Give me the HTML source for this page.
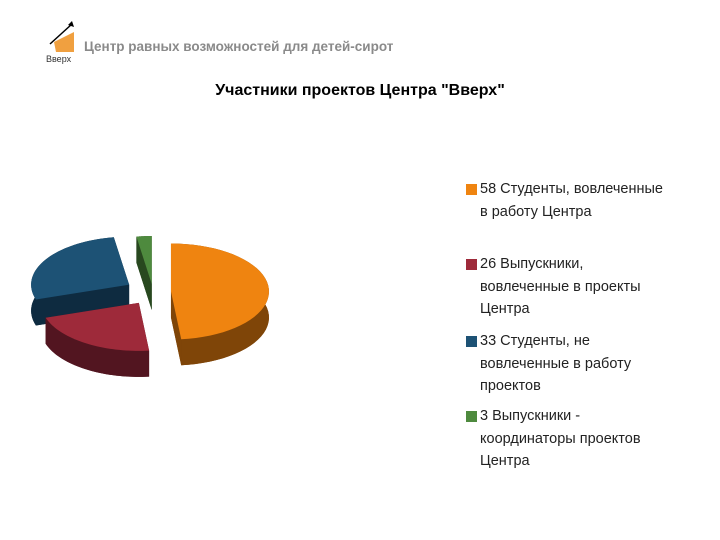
<!DOCTYPE html>
<html><head><meta charset="utf-8"><style>
body{margin:0;background:#fff;width:720px;height:540px;overflow:hidden;position:relative;font-family:"Liberation Sans","DejaVu Sans",sans-serif}
.hdr{position:absolute;left:84px;top:39px;font-size:13.5px;font-weight:bold;color:#8a8a8a}
.title{position:absolute;left:0;width:720px;top:82px;text-align:center;font-size:16px;font-weight:bold;color:#000}
.leg{position:absolute;left:466px;font-size:14.5px;line-height:22.5px;color:#222;width:240px}
.leg span.sw{position:absolute;left:0;top:6px;width:11px;height:11px}
.leg div{padding-left:14px;text-indent:0}
</style></head><body>
<svg style="position:absolute;left:44px;top:18px" width="40" height="46">
<polygon points="10,24 30,14 30,34 12,34" fill="#f0a040"/>
<line x1="6" y1="26" x2="28" y2="6" stroke="#000" stroke-width="1.5"/>
<polygon points="28,3 30,9 24,7" fill="#000"/>
<text x="2" y="44" font-size="9" fill="#333">Вверх</text>
</svg>
<div class="hdr">Центр равных возможностей для детей-сирот</div>
<div class="title">Участники проектов Центра "Вверх"</div>
<svg id="pie" width="720" height="540" style="position:absolute;left:0;top:0"></svg>
<div id="legend"></div>
<script>
const labels=["Студенты, вовлеченные в работу Центра","Выпускники, вовлеченные в проекты Центра","Студенты, не вовлеченные в работу проектов","Выпускники - координаторы проектов Центра"];
const values=[58,26,33,3];
const topColors=["#ef8410","#9e2a3a","#1d5275","#4e8a3e"];
const sideColors=["#7f4508","#521520","#0e2b40","#28481f"];
const legendLines=[["58 Студенты, вовлеченные","в работу Центра"],["26 Выпускники,","вовлеченные в проекты","Центра"],["33 Студенты, не","вовлеченные в работу","проектов"],["3 Выпускники -","координаторы проектов","Центра"]];
const legendTops=[178,253,330,405];
const explode=[18,26,28,16];
const svg=document.getElementById('pie');
const NS="http://www.w3.org/2000/svg";
const cx=153,cy=292,rx=98,ry=48,depth=26,yf=0.5;
const total=values.reduce((a,b)=>a+b,0);
function pt(c,t,dy){return [c[0]+rx*Math.sin(t),c[1]-ry*Math.cos(t)+(dy||0)];}
let a=0;const slices=[];
values.forEach((v,i)=>{const s=a,e=a+v/total*2*Math.PI;a=e;const m=(s+e)/2;
slices.push({i,s,e,c:[cx+explode[i]*Math.sin(m),cy-explode[i]*yf*Math.cos(m)]});});
function sector(c,s,e,dy){let d=`M${c[0]},${c[1]+dy}`;const n=40;for(let k=0;k<=n;k++){const p=pt(c,s+(e-s)*k/n,dy);d+=`L${p[0]},${p[1]}`;}return d+'Z';}
function wall(c,s,e){let top=[],bot=[];const n=40;for(let k=0;k<=n;k++){const t=s+(e-s)*k/n;top.push(pt(c,t,0));bot.push(pt(c,t,depth));}
return 'M'+top.map(p=>p.join(',')).join('L')+'L'+bot.reverse().map(p=>p.join(',')).join('L')+'Z';}
function add(d,fill,name){const p=document.createElementNS(NS,'path');p.setAttribute('d',d);p.setAttribute('fill',fill);


svg.appendChild(p);}
[3,2,0,1].forEach(j=>{const sl=slices[j];const c=sl.c;
add(sector(c,sl.s,sl.e,depth),sideColors[j],'slice-'+j+'-bottom');
const p1=pt(c,sl.s,0),p2=pt(c,sl.e,0);
add(`M${c[0]},${c[1]}L${p1[0]},${p1[1]}L${p1[0]},${p1[1]+depth}L${c[0]},${c[1]+depth}Z`,sideColors[j],'slice-'+j+'-face-a');
add(`M${c[0]},${c[1]}L${p2[0]},${p2[1]}L${p2[0]},${p2[1]+depth}L${c[0]},${c[1]+depth}Z`,sideColors[j],'slice-'+j+'-face-b');
add(wall(c,sl.s,sl.e),sideColors[j],'slice-'+j+'-wall');
add(sector(c,sl.s,sl.e,0),topColors[j],'slice-'+j);});
const lg=document.getElementById('legend');
legendLines.forEach((ls,i)=>{const d=document.createElement('div');d.className='leg';d.style.top=legendTops[i]+'px';


d.innerHTML=`<span class="sw" style="background:${topColors[i]}"></span><div>${ls.join('<br>')}</div>`;lg.appendChild(d);});
</script>
</body></html>
